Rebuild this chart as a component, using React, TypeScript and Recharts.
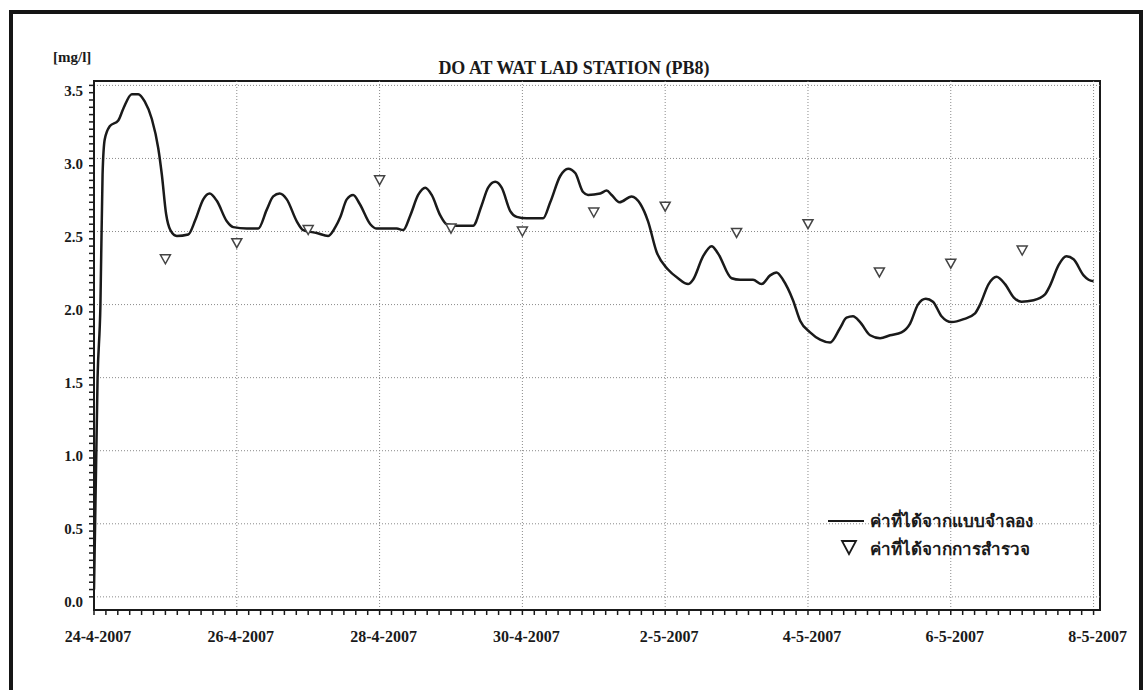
import React from 'react';
import { ComposedChart, Line, Scatter, XAxis, YAxis, ReferenceLine, ReferenceArea } from 'recharts';

// Simulated DO (days since 24-4-2007 00:00)
const simDays = [0, 0.05, 0.09, 0.12, 0.15, 0.22, 0.34, 0.41, 0.53, 0.62, 0.71, 0.81, 0.9, 0.95, 1.01, 1.07, 1.16, 1.32, 1.42, 1.53, 1.62, 1.72, 1.86, 1.95, 2.14, 2.3, 2.42, 2.51, 2.6, 2.7, 2.84, 2.93, 3.12, 3.28, 3.38, 3.45, 3.54, 3.63, 3.72, 3.87, 3.96, 4.24, 4.33, 4.43, 4.54, 4.64, 4.73, 4.85, 4.94, 5.08, 5.31, 5.43, 5.52, 5.62, 5.71, 5.83, 5.92, 6.06, 6.29, 6.39, 6.53, 6.64, 6.74, 6.85, 6.92, 7.09, 7.18, 7.25, 7.36, 7.53, 7.65, 7.76, 7.88, 8.04, 8.18, 8.32, 8.39, 8.53, 8.65, 8.74, 8.93, 9.05, 9.23, 9.35, 9.47, 9.56, 9.65, 9.79, 9.89, 10.03, 10.17, 10.31, 10.45, 10.54, 10.63, 10.73, 10.87, 11.01, 11.15, 11.31, 11.43, 11.54, 11.65, 11.75, 11.87, 12.01, 12.18, 12.34, 12.41, 12.53, 12.64, 12.76, 12.88, 12.99, 13.16, 13.32, 13.39, 13.51, 13.62, 13.72, 13.86, 13.93, 14.0];
const simValues = [0.05, 1.5, 2.0, 2.89, 3.13, 3.22, 3.26, 3.34, 3.44, 3.44, 3.39, 3.27, 3.07, 2.89, 2.62, 2.51, 2.47, 2.48, 2.58, 2.72, 2.76, 2.71, 2.57, 2.53, 2.52, 2.52, 2.65, 2.74, 2.76, 2.72, 2.57, 2.51, 2.49, 2.47, 2.53, 2.6, 2.72, 2.75, 2.69, 2.55, 2.52, 2.52, 2.51, 2.61, 2.75, 2.8, 2.75, 2.61, 2.55, 2.54, 2.54, 2.68, 2.8, 2.84, 2.8, 2.64, 2.6, 2.59, 2.59, 2.7, 2.88, 2.93, 2.9, 2.77, 2.75, 2.76, 2.78, 2.75, 2.7, 2.74, 2.69, 2.57, 2.36, 2.24, 2.18, 2.14, 2.17, 2.33, 2.4, 2.35, 2.18, 2.17, 2.17, 2.14, 2.2, 2.22, 2.17, 2.03, 1.89, 1.81, 1.76, 1.74, 1.84, 1.91, 1.92, 1.88, 1.79, 1.77, 1.79, 1.81, 1.87, 2.0, 2.04, 2.02, 1.92, 1.88, 1.9, 1.94, 2.0, 2.14, 2.19, 2.14, 2.05, 2.02, 2.03, 2.07, 2.13, 2.27, 2.33, 2.31, 2.2, 2.17, 2.16];

// Observed DO
const obsDays = [1, 2, 3, 4, 5, 6, 7, 8, 9, 10, 11, 12, 13];
const obsValues = [2.31, 2.42, 2.51, 2.85, 2.52, 2.5, 2.63, 2.67, 2.49, 2.55, 2.22, 2.28, 2.37];

// Axes
const xMajorTicks = [0, 2, 4, 6, 8, 10, 12, 14];
const xTickLabels = ['24-4-2007', '26-4-2007', '28-4-2007', '30-4-2007', '2-5-2007', '4-5-2007', '6-5-2007', '8-5-2007'];
const xMinorPerDay = 6;
const yMajorTicks = [0, 0.5, 1.0, 1.5, 2.0, 2.5, 3.0, 3.5];
const yTickLabels = ['0.0', '0.5', '1.0', '1.5', '2.0', '2.5', '3.0', '3.5'];
const yMinorPerMajor = 10;

const xDomain: [number, number] = [0, 14.09];
const yDomain: [number, number] = [-0.09, 3.53];

const title = 'DO AT WAT LAD STATION (PB8)';
const unitLabel = '[mg/l]';
const seriesNames = ['ค่าที่ได้จากแบบจำลอง', 'ค่าที่ได้จากการสำรวจ'];

const simData = simDays.map((d, i) => ({ day: d, sim: simValues[i] }));
const obsData = obsDays.map((d, i) => ({ day: d, obs: obsValues[i] }));

const xAllTicks: number[] = [];
for (let i = 0; i <= 14 * xMinorPerDay; i++) xAllTicks.push(i / xMinorPerDay);
const yAllTicks: number[] = [];
for (let i = 0; i <= 7 * yMinorPerMajor; i++) yAllTicks.push(i * 0.5 / yMinorPerMajor);

const FONT = "'Liberation Serif', 'Times New Roman', serif";
const INK = '#1a1a1a';

const XTick = (props: any) => {
  const { x, y, payload } = props;
  const idx = xMajorTicks.findIndex((m) => Math.abs(m - payload.value) < 1e-6);
  if (idx < 0) return <g />;
  return (
    <text x={x + 4} y={y} dy="0.71em" textAnchor="middle" fontFamily={FONT} fontWeight="bold" fontSize={16} fill={INK}>
      {xTickLabels[idx]}
    </text>
  );
};

const YTick = (props: any) => {
  const { x, y, payload } = props;
  const idx = yMajorTicks.findIndex((m) => Math.abs(m - payload.value) < 1e-6);
  if (idx < 0) return <g />;
  return (
    <text x={x} y={y + 5} dy="0.355em" textAnchor="end" fontFamily={FONT} fontWeight="bold" fontSize={15} fill={INK}>
      {yTickLabels[idx]}
    </text>
  );
};

const TriangleDown = (props: any) => {
  const { cx, cy } = props;
  if (cx == null || cy == null) return <g />;
  const w = 5;
  const h = 4.5;
  return (
    <polygon
      points={`${cx - w},${cy - h} ${cx + w},${cy - h} ${cx},${cy + h}`}
      fill="#fff"
      stroke="#444"
      strokeWidth={1.5}
    />
  );
};

const LegendBox = () => (
  <div
    style={{
      position: 'absolute',
      left: 826,
      top: 507,
      fontFamily: FONT,
      fontWeight: 'bold',
      fontSize: 17,
      color: INK,
    }}
  >
    <div style={{ display: 'flex', alignItems: 'center', height: 27 }}>
      <svg width={40} height={10} style={{ marginRight: 4 }}>
        <line x1={2} y1={5} x2={38} y2={5} stroke={INK} strokeWidth={2} />
      </svg>
      <span>{seriesNames[0]}</span>
    </div>
    <div style={{ display: 'flex', alignItems: 'center', height: 28 }}>
      <svg width={40} height={18} style={{ marginRight: 4 }}>
        <polygon points="16,2 30,2 23,15" fill="#fff" stroke={INK} strokeWidth={1.8} />
      </svg>
      <span>{seriesNames[1]}</span>
    </div>
  </div>
);

export default function App() {
  return (
    <div style={{ position: 'absolute', left: 0, top: 0, width: 1144, height: 690, overflow: 'hidden', background: '#fff' }}>
      <div
        style={{
          position: 'absolute',
          left: 9,
          top: 10,
          width: 1134,
          height: 720,
          border: '4px solid #151515',
          boxSizing: 'border-box',
        }}
      />
      <div
        style={{
          position: 'absolute',
          left: 374,
          top: 58,
          width: 400,
          textAlign: 'center',
          fontFamily: FONT,
          fontWeight: 'bold',
          fontSize: 18,
          lineHeight: '20px',
          color: INK,
        }}
      >
        {title}
      </div>
      <div
        style={{
          position: 'absolute',
          left: 53,
          top: 48,
          fontFamily: FONT,
          fontWeight: 'bold',
          fontSize: 15,
          lineHeight: '18px',
          color: INK,
        }}
      >
        {unitLabel}
      </div>
      <div style={{ position: 'absolute', left: 0, top: 0 }}>
        <ComposedChart width={1144} height={690} margin={{ top: 81, right: 44, bottom: 50, left: 54 }}>
          <XAxis
            dataKey="day"
            type="number"
            domain={xDomain}
            allowDataOverflow
            ticks={xAllTicks}
            interval={0}
            tick={<XTick />}
            tickSize={5}
            tickMargin={16}
            height={30}
            axisLine={{ stroke: INK, strokeWidth: 2 }}
            tickLine={{ stroke: INK, strokeWidth: 1.5 }}
          />
          <YAxis
            type="number"
            domain={yDomain}
            allowDataOverflow
            ticks={yAllTicks}
            interval={0}
            tick={<YTick />}
            tickSize={5}
            tickMargin={6}
            width={40}
            axisLine={{ stroke: INK, strokeWidth: 2 }}
            tickLine={{ stroke: INK, strokeWidth: 1.5 }}
          />
          {yMajorTicks.map((v) => (
            <ReferenceLine key={`h${v}`} y={v} stroke="#8a8a8a" strokeDasharray="1 2" strokeWidth={1} />
          ))}
          {xMajorTicks.map((v) => (
            <ReferenceLine key={`v${v}`} x={v} stroke="#8a8a8a" strokeDasharray="1 2" strokeWidth={1} />
          ))}
          <ReferenceArea
            x1={xDomain[0]}
            x2={xDomain[1]}
            y1={yDomain[0]}
            y2={yDomain[1]}
            fill="none"
            fillOpacity={0}
            stroke={INK}
            strokeWidth={2}
          />
          <Line
            data={simData}
            dataKey="sim"
            name={seriesNames[0]}
            type="monotone"
            stroke={INK}
            strokeWidth={2.5}
            dot={false}
            isAnimationActive={false}
          />
          <Scatter
            data={obsData}
            dataKey="obs"
            name={seriesNames[1]}
            shape={<TriangleDown />}
            isAnimationActive={false}
          />
        </ComposedChart>
      </div>
      <LegendBox />
    </div>
  );
}
